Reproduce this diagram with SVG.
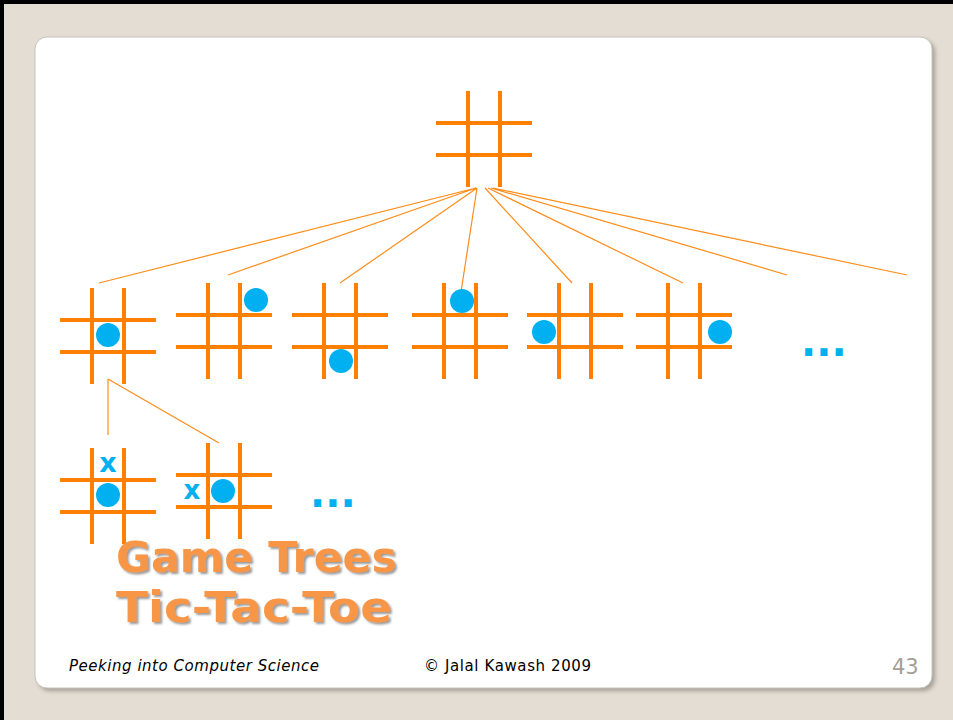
<svg xmlns="http://www.w3.org/2000/svg" width="953" height="720" viewBox="0 0 953 720">
<defs>
<style>
.g{stroke:#FF8000;stroke-width:4;fill:none}
.c{stroke:#FF8C1A;stroke-width:1.2;fill:none}
.o{fill:#00B0F0}
.t{font-family:"DejaVu Sans",Verdana,sans-serif;font-weight:bold;font-size:42px;fill:#F79646}
.x{font-family:"DejaVu Sans",Verdana,sans-serif;font-weight:bold;fill:#00B0F0}
.f{font-family:"DejaVu Sans",Verdana,sans-serif;font-size:15px;fill:#000}
</style>
<filter id="sh" x="-5%" y="-5%" width="110%" height="110%"><feGaussianBlur stdDeviation="2"/></filter>
<filter id="ts" x="-5%" y="-10%" width="115%" height="130%"><feDropShadow dx="2" dy="2" stdDeviation="1.2" flood-color="#555" flood-opacity="0.6"/></filter>
<g id="board"><path d="M32 0V96M64 0V96M0 32H96M0 64H96"/></g>
</defs>
<rect width="953" height="720" fill="#E3DDD3"/>
<rect x="0" y="0" width="953" height="4" fill="#000"/>
<rect x="0" y="0" width="4" height="720" fill="#000"/>
<rect x="38" y="40" width="897" height="651" rx="12" fill="#8a857e" opacity="0.7" filter="url(#sh)"/>
<rect x="35" y="37" width="897" height="651" rx="12" fill="#fff" stroke="#c8c3bb" stroke-width="1"/>

<g id="connectors">
<path class="c" d="M476 188L99 283M476 188L228 275M477 188L340 283M477 188L461 292M485 188L572 283M488 188L683 283M491 188L787 275M493 188L907 275"/>
<path class="c" d="M108 379L108 435M108 379L219 443"/>
</g>

<g id="root"><use href="#board" class="g" x="436" y="91"/></g>

<g id="n1"><use href="#board" class="g" x="60" y="288"/><circle class="o" cx="108" cy="335" r="12"/></g>
<g id="n2"><use href="#board" class="g" x="176" y="283"/><circle class="o" cx="256" cy="300" r="12"/></g>
<g id="n3"><use href="#board" class="g" x="292" y="283"/><circle class="o" cx="341" cy="361" r="12"/></g>
<g id="n4"><use href="#board" class="g" x="412" y="283"/><circle class="o" cx="462" cy="301" r="12"/></g>
<g id="n5"><use href="#board" class="g" x="527" y="283"/><circle class="o" cx="544" cy="332" r="12"/></g>
<g id="n6"><use href="#board" class="g" x="636" y="283"/><circle class="o" cx="720" cy="332" r="12"/></g>
<g id="more1"><text class="x" x="801" y="356" font-size="40">...</text></g>

<g id="m1"><use href="#board" class="g" x="60" y="448"/><circle class="o" cx="108" cy="495" r="12"/><text class="x" x="108" y="472" font-size="27" text-anchor="middle">x</text></g>
<g id="m2"><use href="#board" class="g" x="176" y="443"/><circle class="o" cx="223" cy="491" r="12"/><text class="x" x="192" y="499" font-size="26" text-anchor="middle">x</text></g>
<g id="more2"><text class="x" x="310" y="507" font-size="40">...</text></g>

<g id="title" filter="url(#ts)">
<text class="t" x="116" y="572" textLength="281" lengthAdjust="spacingAndGlyphs">Game Trees</text>
<text class="t" x="116" y="622" textLength="276" lengthAdjust="spacingAndGlyphs">Tic-Tac-Toe</text>
</g>

<text class="f" x="69" y="671" font-style="italic" textLength="250">Peeking into Computer Science</text>
<text class="f" x="424" y="671" textLength="167">© Jalal Kawash 2009</text>
<text x="892" y="674" font-family="DejaVu Sans,Verdana,sans-serif" font-size="21" fill="#A39E97">43</text>
</svg>
